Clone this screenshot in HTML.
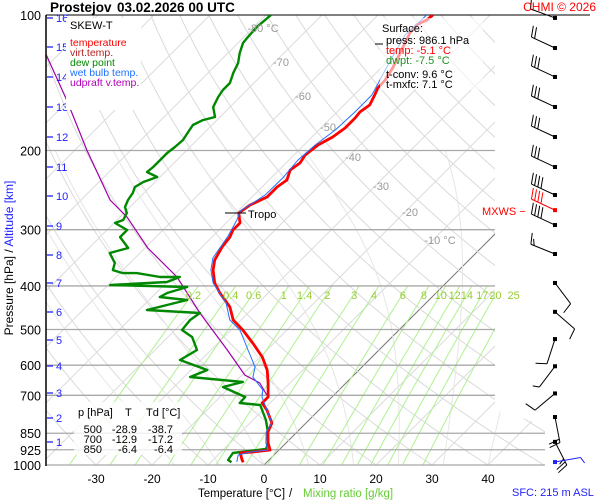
<!DOCTYPE html>
<html><head><meta charset="utf-8"><style>
body{margin:0;background:#fff}
svg{display:block;font-family:"Liberation Sans",sans-serif}
</style></head><body>
<svg id="c" width="600" height="500" viewBox="0 0 600 500" xmlns="http://www.w3.org/2000/svg">
<defs><clipPath id="clip"><polygon points="46,15 495,15 495,410 545,425 545,465 46,465"/></clipPath>
<clipPath id="clip2"><rect x="46" y="15" width="449" height="450"/></clipPath></defs>
<rect width="600" height="500" fill="#fff"/>
<g id="bg" clip-path="url(#clip)"></g>
<g id="isob"></g>
<g id="series" clip-path="url(#clip2)"></g>
<g id="labels"></g>
<g id="barbs"></g>
</svg>
<script>
const NS="http://www.w3.org/2000/svg";
// ---- data ----
const tempP=[100,102.6,105.2,109.6,117.8,130.5,139.5,145.3,150.6,158.5,164.3,169.4,178.3,186.7,194.5,204.7,213.3,221.0,232.6,241.1,253.8,264.4,275.4,289.9,300.5,311.5,327.8,350.4,368.8,394.0,414.7,445.5,476.1,501.2,535.6,575.4,614.9,657.4,706.2,728.2,754.8,806.5,844.5,893.3,926.0,935.5,940.4,974.8,986.1];
const tempT=[-50.2,-50.4,-51.3,-51.1,-49.8,-48.0,-47.1,-47.0,-46.3,-45.4,-45.9,-45.7,-45.7,-46.3,-47.5,-48.0,-47.5,-48.0,-46.8,-47.3,-47.3,-48.9,-49.5,-47.5,-47.5,-46.8,-46.4,-45.4,-43.9,-41.3,-38.6,-34.3,-31.4,-27.9,-23.8,-19.6,-16.4,-13.9,-11.4,-11.4,-9.3,-6.1,-5.2,-3.2,-1.6,-4.3,-6.4,-4.8,-4.2];
const wetP=[100,110.8,129.1,150.6,164.3,180.1,194.5,210.1,230.2,251.2,272.6,285.4,309.8,346.7,368.8,394.0,436.5,476.1,501.2,555.1,605.6,637.4,681.3,706.2,754.8,806.5,844.5,893.3,926.0,935.5,950.1,984.7];
const wetT=[-51.3,-51.6,-49.3,-46.8,-46.8,-47.1,-48.0,-48.4,-47.9,-48.0,-49.6,-48.6,-47.3,-46.1,-44.3,-41.6,-35.7,-32.0,-28.4,-23.4,-19.1,-17.7,-13.6,-12.5,-9.3,-6.1,-5.5,-3.6,-2.0,-4.8,-6.4,-5.4];
const dewP=[100,106.3,111.9,115.4,121.5,127.9,134.5,141.6,146.8,152.1,160.1,168.5,171.2,175.6,182.0,189.7,196.5,202.6,210.1,217.7,223.4,229.1,235.0,241.1,248.6,257.7,267.1,275.4,285.4,289.9,300.5,311.5,329.5,338.0,355.8,368.8,374.5,374.5,382.2,382.2,392.1,398.1,402.2,414.7,423.3,429.9,452.4,459.4,476.1,501.2,519.5,555.1,584.4,614.9,637.4,654.0,671.0,706.2,728.2,735.6,794.3,844.5,893.3,921.2,940.4,974.8,986.1];
const dewT=[-79.1,-79.5,-79.3,-79.1,-77.9,-76.4,-75.5,-74.3,-74.3,-73.9,-73.0,-70.9,-72.5,-73.4,-73.0,-72.5,-72.7,-73.0,-73.0,-73.0,-73.2,-70.5,-72.1,-72.7,-72.0,-71.6,-70.9,-69.5,-68.9,-69.8,-66.4,-66.4,-63.0,-65.4,-62.7,-61.8,-59.5,-57.0,-52.1,-48.6,-50.0,-59.6,-45.5,-48.0,-48.6,-43.2,-48.6,-38.6,-39.1,-38.75,-35.7,-32.5,-33.75,-27.1,-28.9,-18.6,-21.25,-15.5,-15.4,-11.4,-7.7,-5.2,-3.2,-2.5,-7.7,-7.3,-6.3];
const parcelP=[109.6,122.7,154.5,199.5,257.7,281.1,329.5,382.2,459.4,555.1,631.0,657.4,699.0];
const parcelT=[-117.9,-112.1,-100.4,-87.9,-74.8,-68.75,-59.5,-49.1,-38.6,-27.1,-19.5,-15.4,-12.0];
const windP=[101.5,118.4,137.3,160.1,186.7,217.7,251.2,271.4,292.9,339.7,394.0,456.7,525.0,603.4,693.4,782.4,888.3,985];
const windDir=[290,295,295,295,295,295,295,295,295,292,143,131,198,217,230,169,153,80];
const windSpd=[10,20,30,30,30,30,40,40,40,15,10,10,10,5,10,20,25,5];
const pressTicks=[100,200,300,400,500,600,700,850,925,1000];
const kmTicks=[16,15,14,13,12,11,10,9,8,7,6,5,4,3,2,1];
const kmY=[18,47,77,107,137,167,196,226,255,283,312,340,366,393,418,442];
const tempTicks=[-30,-20,-10,0,10,20,30,40];
const mixRatios=[0.2,0.4,0.6,1,1.4,2,3,4,6,8,10,12,14,17,20,25];
const isoLabels=[-10,-20,-30,-40,-50,-60,-70,-80];
// ---- scales ----
const yP=p=>15+450*Math.log10(p/100);
const xT=(T,p)=>264+5.6*T+(465-yP(p));
function el(tag,attrs,parent,text){const e=document.createElementNS(NS,tag);for(const k in attrs)e.setAttribute(k,attrs[k]);if(text!==undefined)e.textContent=text;parent.appendChild(e);return e;}
const bg=document.getElementById('bg'),isob=document.getElementById('isob'),ser=document.getElementById('series'),lab=document.getElementById('labels'),barbs=document.getElementById('barbs');
function path(P,T){return P.map((p,i)=>(i?'L':'M')+xT(T[i],p).toFixed(1)+','+yP(p).toFixed(1)).join('');}
// isotherms
for(let t=-160;t<=40;t+=10){const l=el('line',{x1:xT(t,1050),y1:yP(1050),x2:xT(t,100),y2:yP(100),stroke:t===0?'#777':'#dcdcdc','stroke-width':1},bg);

}
// dry adiabats
const plev=[];for(let p=1050;p>=100;p-=10)plev.push(p);
for(let t0=-60;t0<=220;t0+=10){const TT=plev.map(p=>(t0+273.15)*Math.pow(p/1000,0.2857)-273.15);
const a=el('path',{d:path(plev,TT),fill:'none',stroke:'#dadada','stroke-width':1},bg);

}
// moist adiabats
function es(T){return 6.112*Math.exp(17.67*T/(T+243.5));}
for(let t0=-16;t0<=40;t0+=8){let T=t0;const PP=[],TT=[];
for(let p=1000;p>=200;p-=10){PP.push(p);TT.push(T);const Tk=T+273.15,rs=0.622*es(T)/(p-es(T));
const g=(287*Tk+2.5e6*rs)/(1004+(2.5e6*2.5e6*rs*0.622)/(287*Tk*Tk))/p;T-=g*10;}
const m=el('path',{d:path(PP,TT),fill:'none',stroke:'#e6e6e6','stroke-width':1},bg);

}
// mixing ratio lines
const mrp=[];for(let p=1000;p>=400;p-=20)mrp.push(p);
function tdFromW(w,p){const e=w*p/(622+w),l=Math.log(e/6.112);return 243.5*l/(17.67-l);}
mixRatios.forEach(w=>{const TT=mrp.map(p=>tdFromW(w,p));
const m=el('path',{d:path(mrp,TT),fill:'none',stroke:'#b0f090','stroke-width':1},bg);


const t=el('text',{x:xT(tdFromW(w,400),400)-5,y:299,'font-size':11,fill:'#99cc33','text-anchor':'middle'},lab,String(w));

});
// isobars
pressTicks.forEach(p=>{const y=yP(p);const ext=p>=850?545:495;
const l=el('line',{x1:46,y1:y,x2:p===100?590:ext,y2:y,stroke:p===100?'#000':'#a8a8a8','stroke-width':p===100?1:1.3},isob);


const t=el('text',{x:41,y:y+5,'font-size':12.5,'text-anchor':'end',fill:'#000'},lab,String(p));

});
// isotherm labels
const isoPos=[[440,244],[410,216],[381,190],[353,161],[328,131],[303,100],[281,66],[263,32]];
isoLabels.forEach((v,i)=>{const t=el('text',{x:isoPos[i][0],y:isoPos[i][1],'font-size':11,fill:'#999','text-anchor':'middle'},lab,(v===-10||v===-80)?v+' °C':String(v));

});
// series
let s;
s=el('path',{d:path(parcelP,parcelT),fill:'none',stroke:'#a000a8','stroke-width':1.2},ser);


s=el('path',{d:path(dewP,dewT),fill:'none',stroke:'#008800','stroke-width':2.4,'stroke-linejoin':'round'},ser);


s=el('path',{d:path(tempP,tempT),fill:'none',stroke:'#ff0000','stroke-width':2.8,'stroke-linejoin':'round'},ser);


s=el('path',{d:path(wetP,wetT),fill:'none',stroke:'#2070ff','stroke-width':1},ser);


// axis line
s=el('line',{x1:46,y1:15,x2:46,y2:466,stroke:'#000','stroke-width':1.5},lab);


// km ticks
kmTicks.forEach((k,i)=>{const y=kmY[i];el('line',{x1:47,y1:y,x2:53,y2:y,stroke:'#22f','stroke-width':1.3},lab);
const t=el('text',{x:56,y:y+4,'font-size':11,fill:'#22f'},lab,String(k));

});
// temp ticks
tempTicks.forEach(v=>{const t=el('text',{x:xT(v,1000),y:483,'font-size':12,'text-anchor':'middle',fill:'#000'},lab,String(v));

});
// wind barbs
windP.forEach((p,i)=>{const y=yP(p),x=555,th=windDir[i]*Math.PI/180;
const ux=Math.sin(th),uy=-Math.cos(th),L=26;const col=i===7?'#f00':(i===17?'#22f':'#000');
const g=el('g',{},barbs);


const ex=x+ux*L,ey=y+uy*L;el('line',{x1:x,y1:y,x2:ex,y2:ey,stroke:col,'stroke-width':1},g);
el('rect',{x:x-2,y:y-2,width:4,height:4,fill:col},g);
let sp=windSpd[i],pos=0;const px=-uy,py=ux;
while(sp>=5){const len=sp>=10?11:6;const bx=ex-ux*pos*3.5,by=ey-uy*pos*3.5;
el('line',{x1:bx,y1:by,x2:bx+px*len+ux*3,y2:by+py*len+uy*3,stroke:col,'stroke-width':1},g);
sp-=sp>=10?10:5;pos++;}});
</script>
<!-- static text -->
<svg width="600" height="500" style="position:absolute;left:0;top:0" xmlns="http://www.w3.org/2000/svg" font-family="Liberation Sans, sans-serif">
<text x="50" y="12" font-size="13.5" font-weight="bold">Prostejov</text>
<text x="117" y="12" font-size="13.5" font-weight="bold">03.02.2026 00 UTC</text>
<text x="596" y="11" font-size="12" fill="#f00" text-anchor="end">CHMI © 2026</text>
<g>
<rect x="66" y="18" width="75" height="92" fill="#fff"/>
<text x="70" y="29" font-size="11">SKEW-T</text>
<text x="70" y="46" font-size="10.5" fill="#f00">temperature</text>
<text x="70" y="56" font-size="10.5" fill="#b22222">virt.temp.</text>
<text x="70" y="66" font-size="10.5" fill="#008800">dew point</text>
<text x="70" y="76" font-size="10.5" fill="#2070ff">wet bulb temp.</text>
<text x="70" y="86" font-size="10.5" fill="#b000b8">udpraft v.temp.</text>
</g>
<g>
<rect x="380" y="18" width="103" height="72" fill="#fff" fill-opacity="0.6"/>
<line x1="375" y1="44" x2="383" y2="44" stroke="#000"/>
<text x="382" y="32" font-size="11">Surface:</text>
<text x="386" y="44" font-size="11">press: 986.1 hPa</text>
<text x="386" y="54" font-size="11" fill="#f00">temp: -5.1 °C</text>
<text x="386" y="64" font-size="11" fill="#209020">dwpt: -7.5 °C</text>
<text x="386" y="78" font-size="11">t-conv: 9.6 °C</text>
<text x="386" y="88" font-size="11">t-mxfc: 7.1 °C</text>
</g>
<line x1="225" y1="213" x2="246" y2="213" stroke="#000"/>
<text x="248" y="218" font-size="11">Tropo</text>
<text x="482" y="215" font-size="11" fill="#f00">MXWS −</text>
<g>
<rect x="74" y="402" width="108" height="53" fill="#fff" fill-opacity="0.8"/>
<text x="78" y="416" font-size="11">p [hPa]</text><text x="125" y="416" font-size="11">T</text><text x="146" y="416" font-size="11">Td [°C]</text>
<text x="102" y="433" font-size="11" text-anchor="end">500</text><text x="137" y="433" font-size="11" text-anchor="end">-28.9</text><text x="173" y="433" font-size="11" text-anchor="end">-38.7</text>
<text x="102" y="443" font-size="11" text-anchor="end">700</text><text x="137" y="443" font-size="11" text-anchor="end">-12.9</text><text x="173" y="443" font-size="11" text-anchor="end">-17.2</text>
<text x="102" y="453" font-size="11" text-anchor="end">850</text><text x="137" y="453" font-size="11" text-anchor="end">-6.4</text><text x="173" y="453" font-size="11" text-anchor="end">-6.4</text>
</g>
<text x="198" y="497" font-size="11.5">Temperature [°C]<tspan x="289">/</tspan><tspan x="303" fill="#66cc33">Mixing ratio [g/kg]</tspan></text>
<text x="512" y="496" font-size="11" fill="#22f">SFC: 215 m ASL</text>
<text transform="translate(13,258) rotate(-90)" font-size="12" text-anchor="middle">Pressure [hPa]  /  <tspan fill="#22f">Altitude [km]</tspan></text>
</svg>
</body></html>
